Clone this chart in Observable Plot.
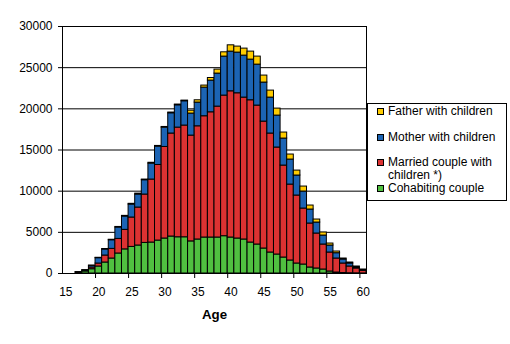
<!DOCTYPE html>
<html>
<head>
<meta charset="utf-8">
<script src="https://cdn.jsdelivr.net/npm/d3@7"></script>
<script src="https://cdn.jsdelivr.net/npm/@observablehq/plot@0.6"></script>
<style>
  body { margin: 0; background: #fff; font-family: "Liberation Sans", Arial, sans-serif; }
  #wrap { position: relative; width: 510px; height: 344px; }
  #legend { position: absolute; left: 367px; top: 103px; width: 140px; height: 98px; box-sizing: border-box; border: 1px solid #000; background: #fff; }
  .item { position: absolute; left: 9px; display: flex; align-items: flex-start; font-size: 12px; line-height: 12.5px; color: #000; }
  .sw { flex: none; width: 5px; height: 5px; border: 1px solid #000; margin-top: 3px; margin-right: 4px; }
  .lab { width: 116px; }
</style>
</head>
<body>
<div id="wrap"></div>
<script>
// Categories (age)
const ages = [15,16,17,18,19,20,21,22,23,24,25,26,27,28,29,30,31,32,33,34,35,36,37,38,39,40,41,42,43,44,45,46,47,48,49,50,51,52,53,54,55,56,57,58,59,60];

// Series names, bottom to top of stack
const seriesNames = ["Cohabiting couple", "Married couple with children *)", "Mother with children", "Father with children"];
const seriesColors = ["#50c040", "#dc3232", "#1c64b4", "#ffcc00"];

// Series values per age (15..60)
const cohabiting = [0,0,100,250,520,850,1335,1820,2430,2930,3230,3400,3715,3760,4000,4250,4490,4400,4400,3900,4130,4370,4370,4370,4530,4370,4250,4130,3760,3520,3035,2550,2305,1940,1580,1215,1090,730,610,485,245,120,60,30,20,10];
const married    = [0,0,30,80,210,360,850,1170,1770,2370,3570,4610,5875,7650,9180,11120,12510,13320,13570,12850,13750,14730,15210,15900,17080,17760,17640,17235,17280,16875,15415,14450,12995,11170,9220,8255,6800,5340,4245,3035,2305,1700,1155,820,590,310];
const mother     = [0,0,20,60,195,650,730,1050,1385,1620,1575,1580,1740,1940,2235,2350,2460,2710,2950,2675,2880,3480,3850,4010,4735,4820,4940,5100,4940,4975,4740,4365,3880,3280,3040,2430,2065,1700,1335,1090,850,645,485,365,120,80];
const father     = [0,0,5,10,40,50,60,60,70,80,90,110,80,100,80,80,90,90,80,350,280,245,315,485,520,765,730,850,970,975,850,850,850,730,610,600,605,485,365,370,240,205,120,120,120,85];

// Axis ticks
const yTicks = [0, 5000, 10000, 15000, 20000, 25000, 30000];
const xTickLabels = [15, 20, 25, 30, 35, 40, 45, 50, 55, 60];

const seriesValues = [cohabiting, married, mother, father];
const data = ages.flatMap((age, i) =>
  seriesNames.map((s, j) => ({age, series: s, value: seriesValues[j][i]}))
).filter(d => d.value > 0);
// tick marks sit on category boundaries (left edge of each labelled category)
const xTickMarks = xTickLabels.slice(1).map(a => a - 0.5);

const stacked = Plot.stackY({
  x: "age", y: "value", z: "series", fill: "series", order: seriesNames,
  stroke: "#000", strokeWidth: 1
});

const chart = Plot.plot({
  width: 510,
  height: 344,
  marginLeft: 62,
  marginRight: 144,
  marginTop: 26,
  marginBottom: 71,
  style: {fontFamily: "'Liberation Sans', Arial, sans-serif", fontSize: "12px", color: "#000", background: "#fff"},
  x: {type: "linear", domain: [ages[0] - 0.5, ages[ages.length - 1] + 0.5]},
  y: {domain: [0, 30000]},
  color: {domain: seriesNames, range: seriesColors},
  marks: [
    Plot.gridY(yTicks, {stroke: "#000", strokeOpacity: 1, strokeWidth: 1}),
    Plot.rect(data, {...stacked, x: undefined, x1: d => d.age - 0.5, x2: d => d.age + 0.5}),
    Plot.frame({stroke: "#000", strokeWidth: 1}),
    Plot.axisY(yTicks, {tickSize: 4, tickPadding: 6, label: null, tickFormat: d => String(d)}),
    Plot.axisX(xTickLabels, {tickSize: 0, tickPadding: 14, label: null, tickFormat: d => String(d)}),
    Plot.axisX(xTickMarks, {tickSize: 5, label: null, tickFormat: () => ""}),
    Plot.text(["Age"], {frameAnchor: "bottom", dy: 45, fontWeight: "bold", fontSize: 13.3, fill: "#000"})
  ]
});

const wrap = document.getElementById("wrap");
wrap.appendChild(chart);

// Legend (top item = top of stack)
const legend = d3.select(wrap).append("div").attr("id", "legend");
const legendTops = [1, 26.6, 52.2, 77.8];
[...seriesNames].reverse().forEach((name, i) => {
  const idx = seriesNames.indexOf(name);
  const item = legend.append("div").attr("class", "item").style("top", legendTops[i] + "px");
  item.append("span").attr("class", "sw").style("background", seriesColors[idx]);
  item.append("span").attr("class", "lab").text(name);
});
</script>
</body>
</html>
